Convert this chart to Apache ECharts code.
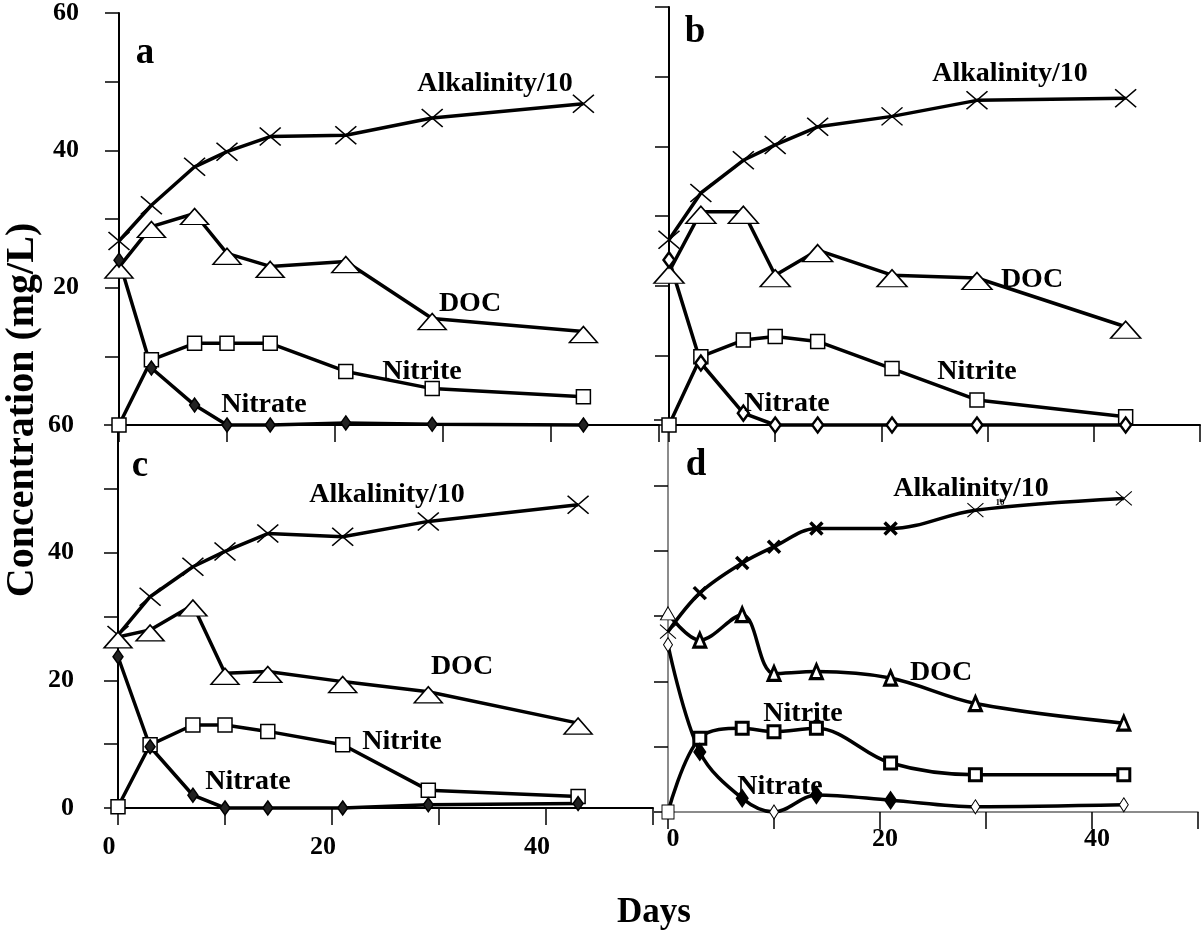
<!DOCTYPE html>
<html>
<head>
<meta charset="utf-8">
<script src="https://cdn.jsdelivr.net/npm/echarts@6/dist/echarts.min.js"></script>
<style>
  html, body { margin: 0; padding: 0; background: #fff; }
  #chart { width: 1203px; height: 934px; }
</style>
</head>
<body>
<div id="chart"></div>
<script>
// Sampling days shared by all four reactors
const days = [0, 3, 7, 10, 14, 21, 29, 43];

// Reactor a (mg/L)
const alkalinityA = [26.8, 32.0, 37.6, 39.8, 42.0, 42.2, 44.7, 46.8];
const docA        = [23.0, 28.9, 30.8, 25.0, 23.1, 23.8, 15.5, 13.6];
const nitriteA    = [0, 9.5, 11.9, 11.9, 11.9, 7.8, 5.3, 4.1];
const nitrateA    = [24.0, 8.3, 2.9, 0, 0, 0.3, 0.1, 0];

// Reactor b
const alkalinityB = [26.6, 33.3, 38.0, 40.2, 42.8, 44.3, 46.6, 46.9];
const docB        = [22.0, 30.6, 30.6, 21.5, 25.1, 21.5, 21.1, 14.1];
const nitriteB    = [0, 9.8, 12.2, 12.7, 12.0, 8.1, 3.6, 1.2];
const nitrateB    = [23.7, 8.9, 1.7, 0, 0, 0, 0, 0];

// Reactor c
const alkalinityC = [27.1, 33.1, 37.8, 40.2, 43.0, 42.5, 44.9, 47.5];
const docC        = [26.8, 27.9, 31.8, 21.1, 21.4, 19.8, 18.2, 13.3];
const nitriteC    = [0.2, 9.9, 13.0, 13.0, 12.0, 9.9, 2.8, 1.8];
const nitrateC    = [23.7, 9.6, 2.0, 0, 0, 0, 0.5, 0.7];

// Reactor d
const alkalinityD = [27.6, 33.5, 38.1, 40.6, 43.4, 43.4, 46.2, 48.0];
const docD        = [30.4, 26.3, 30.2, 21.2, 21.5, 20.5, 16.6, 13.6];
const nitriteD    = [0, 11.3, 12.8, 12.3, 12.8, 7.5, 5.7, 5.7];
const nitrateD    = [25.6, 9.2, 2.1, 0, 2.6, 1.8, 0.8, 1.1];

// Tick labels
const xTickLabels = ['0', '20', '40'];
const yTickLabelsUpper = ['20', '40', '60'];
const yTickLabelsLower = ['0', '20', '40', '60'];

// Points drawn with the light marker style in reactor d
const thinAlkD = [0, 6, 7];
const thinDocD = [0];
const thinNitriteD = [0];
const thinNitrateD = [0, 3, 6, 7];

const FONT = '"Liberation Serif", "Times New Roman", serif';
const CROSS = 'path://M0,0L10,10M10,0L0,10';

const chart = echarts.init(document.getElementById('chart'), null, { renderer: 'canvas' });

const grids = [
  { left: 119, top: 13,  width: 540, height: 412 }, // a
  { left: 669, top: 7,   width: 531, height: 418 }, // b
  { left: 118, top: 425, width: 535, height: 383 }, // c
  { left: 668, top: 420, width: 530, height: 392 }  // d
];

function xAxis(idx, labels, opts) {
  return {
    type: 'value', gridIndex: idx, min: 0, max: 50, interval: 10,
    axisLine: { show: true, onZero: false, lineStyle: { color: opts.lineColor, width: opts.lineWidth } },
    axisTick: { show: true, inside: false, length: 17, lineStyle: { color: '#000', width: 1.5 } },
    splitLine: { show: false },
    axisLabel: labels ? {
      show: true, margin: opts.margin, padding: opts.padding,
      fontFamily: FONT, fontWeight: 'bold', fontSize: 26, color: '#000',
      formatter: v => labels.includes(String(v)) ? String(v) : ''
    } : { show: false }
  };
}

function yAxis(idx, labels, opts) {
  return {
    type: 'value', gridIndex: idx, min: 0, max: 60, interval: 10,
    axisLine: { show: true, onZero: false, lineStyle: { color: opts.lineColor, width: opts.lineWidth } },
    axisTick: { show: true, inside: false, length: 14, lineStyle: { color: '#000', width: 1.5 } },
    splitLine: { show: false },
    axisLabel: labels ? {
      show: true, margin: opts.margin,
      fontFamily: FONT, fontWeight: 'bold', fontSize: 26, color: '#000',
      formatter: v => labels.includes(String(v)) ? String(v) : ''
    } : { show: false }
  };
}

const solid = { lineColor: '#000', lineWidth: 2 };
const grey = { lineColor: '#666', lineWidth: 1.5 };

const xAxes = [
  xAxis(0, null, solid),
  xAxis(1, null, solid),
  xAxis(2, xTickLabels, Object.assign({ margin: 26, padding: [0, 18, 0, 0] }, solid)),
  xAxis(3, xTickLabels, Object.assign({ margin: 14, padding: [0, 0, 0, 10] }, grey))
];
const yAxes = [
  yAxis(0, yTickLabelsUpper, Object.assign({ margin: 40 }, solid)),
  yAxis(1, null, solid),
  yAxis(2, yTickLabelsLower, Object.assign({ margin: 44 }, solid)),
  yAxis(3, null, grey)
];

// Marker styles
const markers = {
  alk:     { symbol: CROSS, size: [21, 18], style: { color: '#000', borderColor: '#000', borderWidth: 1.5 } },
  doc:     { symbol: 'triangle', size: [28, 16], offset: [0, 3], style: { color: '#fff', borderColor: '#000', borderWidth: 1.5 } },
  nitrite: { symbol: 'rect', size: [14, 14], style: { color: '#fff', borderColor: '#000', borderWidth: 1.5 } },
  nitrate: { symbol: 'diamond', size: [10, 14], style: { color: '#222', borderColor: '#000', borderWidth: 1.5 } },
  nitrateOpen: { symbol: 'diamond', size: [11, 15], style: { color: '#fff', borderColor: '#000', borderWidth: 2.5 } }
};

const boldD = {
  alk:     { symbol: CROSS, size: [12, 12], style: { color: '#000', borderColor: '#000', borderWidth: 3.5 } },
  doc:     { symbol: 'triangle', size: [12, 14], style: { color: '#fff', borderColor: '#000', borderWidth: 3 } },
  nitrite: { symbol: 'rect', size: [12, 12], style: { color: '#fff', borderColor: '#000', borderWidth: 3 } },
  nitrate: { symbol: 'diamond', size: [11, 16], style: { color: '#000', borderColor: '#000', borderWidth: 2 } }
};
const thinD = {
  alk:     { symbol: CROSS, size: [16, 14], style: { color: '#000', borderColor: '#000', borderWidth: 1 } },
  doc:     { symbol: 'triangle', size: [15, 13], style: { color: '#fff', borderColor: '#000', borderWidth: 1 } },
  nitrite: { symbol: 'rect', size: [12, 14], style: { color: '#fff', borderColor: '#000', borderWidth: 1 } },
  nitrate: { symbol: 'diamond', size: [9, 14], style: { color: '#fff', borderColor: '#000', borderWidth: 1 } }
};

function series(idx, values, m) {
  return {
    type: 'line', xAxisIndex: idx, yAxisIndex: idx,
    data: days.map((d, i) => [d, values[i]]),
    symbol: m.symbol, symbolSize: m.size, symbolOffset: m.offset || [0, 0],
    showAllSymbol: true, clip: false,
    lineStyle: { color: '#000', width: 3.5 },
    itemStyle: m.style,
    emphasis: { disabled: true },
    z: 3
  };
}

function seriesD(values, key, thinIdx) {
  return {
    type: 'line', xAxisIndex: 3, yAxisIndex: 3,
    smooth: 0.35, showAllSymbol: true, clip: false,
    data: days.map((d, i) => {
      const m = thinIdx.includes(i) ? thinD[key] : boldD[key];
      return { value: [d, values[i]], symbol: m.symbol, symbolSize: m.size, itemStyle: m.style };
    }),
    lineStyle: { color: '#000', width: 3.5 },
    itemStyle: { color: '#000' },
    emphasis: { disabled: true },
    z: 3
  };
}

const allSeries = [
  series(0, alkalinityA, markers.alk),
  series(0, docA, markers.doc),
  series(0, nitriteA, markers.nitrite),
  series(0, nitrateA, markers.nitrate),

  series(1, alkalinityB, markers.alk),
  series(1, docB, Object.assign({}, markers.doc, { size: [30, 17] })),
  series(1, nitriteB, markers.nitrite),
  series(1, nitrateB, markers.nitrateOpen),

  series(2, alkalinityC, markers.alk),
  series(2, docC, markers.doc),
  series(2, nitriteC, markers.nitrite),
  series(2, nitrateC, markers.nitrate),

  seriesD(alkalinityD, 'alk', thinAlkD),
  seriesD(docD, 'doc', thinDocD),
  seriesD(nitriteD, 'nitrite', thinNitriteD),
  seriesD(nitrateD, 'nitrate', thinNitrateD)
];

// Panel letters and curve annotations
const annotations = [
  { text: 'a', x: 145, y: 53, size: 37 },
  { text: 'Alkalinity/10', x: 495, y: 84, size: 28 },
  { text: 'DOC', x: 470, y: 304, size: 28 },
  { text: 'Nitrite', x: 422, y: 372, size: 28 },
  { text: 'Nitrate', x: 264, y: 405, size: 28 },

  { text: 'b', x: 695, y: 32, size: 37 },
  { text: 'Alkalinity/10', x: 1010, y: 74, size: 28 },
  { text: 'DOC', x: 1032, y: 280, size: 28 },
  { text: 'Nitrite', x: 977, y: 372, size: 28 },
  { text: 'Nitrate', x: 787, y: 404, size: 28 },

  { text: 'c', x: 140, y: 466, size: 37 },
  { text: 'Alkalinity/10', x: 387, y: 495, size: 28 },
  { text: 'DOC', x: 462, y: 667, size: 28 },
  { text: 'Nitrite', x: 402, y: 742, size: 28 },
  { text: 'Nitrate', x: 248, y: 782, size: 28 },

  { text: 'd', x: 696, y: 465, size: 37 },
  { text: 'Alkalinity/10', x: 971, y: 489, size: 28 },
  { text: 'DOC', x: 941, y: 673, size: 28 },
  { text: 'Nitrite', x: 803, y: 714, size: 28 },
  { text: 'Nitrate', x: 780, y: 787, size: 28 },
  { text: '10', x: 1000, y: 503, size: 9 }
];

const graphics = annotations.map(a => ({
  type: 'text', z: 10, silent: true,
  style: {
    text: a.text, x: a.x, y: a.y, align: 'center', verticalAlign: 'middle',
    font: 'bold ' + a.size + 'px ' + FONT, fill: '#000'
  }
}));

graphics.push({
  type: 'text', z: 10, silent: true, rotation: Math.PI / 2, x: 23, y: 410,
  style: {
    text: 'Concentration (mg/L)', x: 0, y: 0, align: 'center', verticalAlign: 'middle',
    font: 'bold 40px ' + FONT, fill: '#000'
  }
});
graphics.push({
  type: 'text', z: 10, silent: true,
  style: {
    text: 'Days', x: 654, y: 913, align: 'center', verticalAlign: 'middle',
    font: 'bold 35px ' + FONT, fill: '#000'
  }
});

chart.setOption({
  animation: false,
  backgroundColor: '#fff',
  grid: grids.map(g => Object.assign({ containLabel: false }, g)),
  xAxis: xAxes,
  yAxis: yAxes,
  series: allSeries,
  graphic: graphics
});
</script>
</body>
</html>
